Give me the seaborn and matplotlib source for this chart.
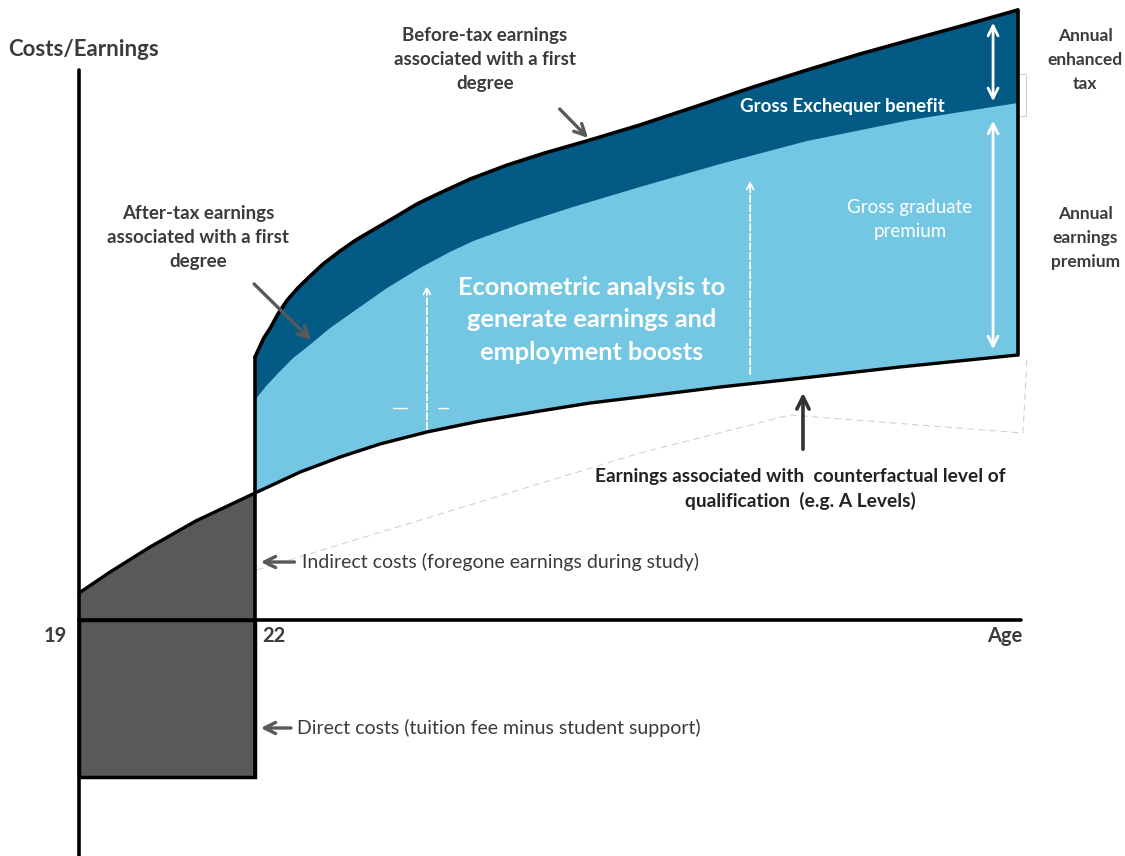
import numpy as np
import pandas as pd
import matplotlib
matplotlib.use('Agg')
import matplotlib.pyplot as plt
import seaborn as sns

sns.set_theme(style='white')
plt.rcParams['font.family'] = ['Lato', 'DejaVu Sans']

# ages and (arbitrary unit) earnings
cf_age = [19.0, 19.53, 20.21, 20.99, 22.0, 22.77, 23.45, 24.13, 24.93, 25.84, 26.86,
          27.71, 28.56, 29.93, 31.34, 32.99, 35.0]
cf_earn = [2.7, 4.8, 7.3, 9.9, 12.7, 14.8, 16.3, 17.6, 18.8, 19.9, 20.9,
           21.7, 22.3, 23.3, 24.2, 25.3, 26.5]

bt_age = [22.0, 22.07, 22.15, 22.26, 22.39, 22.55, 22.73, 22.94, 23.16, 23.45, 23.72, 24.01,
          24.39, 24.76, 25.15, 25.67, 26.3, 26.94, 27.71, 28.56, 29.59, 30.44, 31.41,
          32.31, 33.17, 34.1, 35.0]
bt_earn = [26.3, 27.2, 28.2, 29.2, 30.6, 32.0, 33.2, 34.4, 35.6, 36.9, 38.0, 39.0,
           40.3, 41.6, 42.7, 44.1, 45.5, 46.7, 48.0, 49.5, 51.5, 53.2, 55.0,
           56.6, 58.0, 59.5, 61.0]

at_age = [22.0, 22.19, 22.43, 22.65, 22.89, 23.28, 23.74, 24.25, 24.81, 25.32, 25.72,
          26.52, 27.42, 28.56, 29.93, 31.41, 33.17, 35.0]
at_earn = [22.0, 23.4, 24.9, 26.2, 27.3, 29.2, 31.1, 33.2, 35.2, 36.8, 37.9,
           39.6, 41.3, 43.3, 45.6, 47.9, 50.0, 51.7]

direct_cost = -15.7
study_start, grad_age, end_age = 19, 22, 35

dark_blue = '#035a85'
light_blue = '#74c7e3'
grey = '#595959'
txt = '#3b3b3b'

fig = plt.figure(figsize=(11.25, 8.56), dpi=100)
ax = fig.add_axes([0, 0, 1, 1])
ax.set_xlim(17.653, 36.829)
ax.set_ylim(-23.6, 62.0)
ax.axis('off')

cf = pd.DataFrame({'age': cf_age, 'earn': cf_earn})
post = cf[cf.age >= grad_age]
pre = cf[cf.age <= grad_age]

# blue wedges
ax.fill(list(bt_age) + list(post.age[::-1]), list(bt_earn) + list(post.earn[::-1]),
        color=dark_blue, lw=0, zorder=1)
ax.fill(list(at_age) + list(post.age[::-1]), list(at_earn) + list(post.earn[::-1]),
        color=light_blue, lw=0, zorder=2)

# indirect costs (foregone earnings)
ax.fill_between(pre.age, 0, pre.earn, color=grey, lw=0, zorder=2)
# direct costs
ax.bar(study_start, direct_cost, width=grad_age - study_start, align='edge',
       color=grey, edgecolor='black', lw=2.5, zorder=3)

# faint construction lines left in the original
ax.plot([22.03, 28.56, 31.12, 35.09, 35.16], [5.0, 16.7, 20.5, 18.7, 26.5],
        color='#d2d2d2', lw=0.8, ls=(0, (6, 4)), zorder=1)
ax.plot([35.0, 35.14, 35.14, 35.0], [54.6, 54.6, 50.4, 50.4], color='#cfcfcf', lw=0.8, zorder=0)

# curves
sns.lineplot(x=cf_age, y=cf_earn, ax=ax, color='black', lw=2.4, sort=False, estimator=None, zorder=5)
sns.lineplot(x=bt_age, y=bt_earn, ax=ax, color='black', lw=2.6, sort=False, estimator=None, zorder=5)
ax.plot([grad_age, grad_age], [bt_earn[0], direct_cost], color='black', lw=2.6, zorder=6)
ax.plot([end_age, end_age], [bt_earn[-1], cf_earn[-1]], color='black', lw=2.6, zorder=6)

# axes
ax.plot([study_start, study_start], [-23.6, 55.0], color='black', lw=2.6, zorder=6)
ax.plot([study_start, 35.05], [0, 0], color='black', lw=2.6, zorder=6)

# white arrows on the right
ax.annotate('', xy=(34.58, 60.0), xytext=(34.58, 51.6),
            arrowprops=dict(arrowstyle='<->', color='white', lw=2, mutation_scale=18), zorder=7)
ax.annotate('', xy=(34.58, 50.2), xytext=(34.58, 26.8),
            arrowprops=dict(arrowstyle='<->', color='white', lw=2, mutation_scale=18), zorder=7)

# dashed white arrows
for a, lo, hi in [(24.93, 18.8, 33.7), (30.44, 24.3, 44.2)]:
    ax.annotate('', xy=(a, hi), xytext=(a, lo),
                arrowprops=dict(arrowstyle='->', color='white', lw=1.3, ls='--', mutation_scale=12), zorder=7)
ax.plot([24.35, 24.59], [21.2, 21.2], color='white', lw=1, zorder=7)
ax.plot([25.12, 25.29], [21.2, 21.2], color='white', lw=1, zorder=7)

# pointer arrows
ap = dict(arrowstyle='->', color=grey, lw=2.4, mutation_scale=20)
ax.annotate('', xy=(27.71, 48.0), xytext=(27.16, 51.3), arrowprops=ap, zorder=8)
ax.annotate('', xy=(22.99, 27.8), xytext=(21.95, 33.8), arrowprops=ap, zorder=8)
ax.annotate('', xy=(22.05, 5.8), xytext=(22.72, 5.8), arrowprops=ap, zorder=8)
ax.annotate('', xy=(22.05, -10.8), xytext=(22.66, -10.8), arrowprops=ap, zorder=8)
ax.annotate('', xy=(31.34, 23.0), xytext=(31.34, 16.8),
            arrowprops=dict(arrowstyle='->', color='#333333', lw=2.6, mutation_scale=22), zorder=8)

# labels
ax.text(19.07, 57.0, 'Costs/Earnings', ha='center', va='center', fontsize=16, fontweight='bold', color=txt)
ax.text(25.92, 56.0, 'Before-tax earnings\nassociated with a first\ndegree', ha='center', va='center',
        fontsize=13.5, fontweight='bold', color=txt, linespacing=1.5)
ax.text(21.03, 38.2, 'After-tax earnings\nassociated with a first\ndegree', ha='center', va='center',
        fontsize=13.5, fontweight='bold', color=txt, linespacing=1.5)
ax.text(32.02, 51.3, 'Gross Exchequer benefit', ha='center', va='center',
        fontsize=13.5, fontweight='bold', color='white')
ax.text(33.16, 40.0, 'Gross graduate\npremium', ha='center', va='center',
        fontsize=13.5, color='white', linespacing=1.5)
ax.text(27.74, 30.0, 'Econometric analysis to\ngenerate earnings and\nemployment boosts', ha='center', va='center',
        fontsize=18.3, fontweight='bold', color='white', linespacing=1.5)
ax.text(36.15, 56.0, 'Annual\nenhanced\ntax', ha='center', va='center',
        fontsize=12.5, fontweight='bold', color=txt, linespacing=1.6)
ax.text(36.15, 38.2, 'Annual\nearnings\npremium', ha='center', va='center',
        fontsize=12.5, fontweight='bold', color=txt, linespacing=1.6)
ax.text(31.29, 13.1, 'Earnings associated with  counterfactual level of\nqualification  (e.g. A Levels)',
        ha='center', va='center', fontsize=13.8, fontweight='bold', color='#222222', linespacing=1.45)
ax.text(22.80, 5.8, 'Indirect costs (foregone earnings during study)', ha='left', va='center',
        fontsize=14, color=txt)
ax.text(22.72, -10.8, 'Direct costs (tuition fee minus student support)', ha='left', va='center',
        fontsize=14, color=txt)
ax.text(18.59, -1.6, '19', ha='center', va='center', fontsize=14.5, fontweight='bold', color=txt)
ax.text(22.12, -1.6, '22', ha='left', va='center', fontsize=14.5, fontweight='bold', color=txt)
ax.text(35.08, -1.6, 'Age', ha='right', va='center', fontsize=14.5, fontweight='bold', color=txt)

fig.savefig('out.png', dpi=100, facecolor='white')
